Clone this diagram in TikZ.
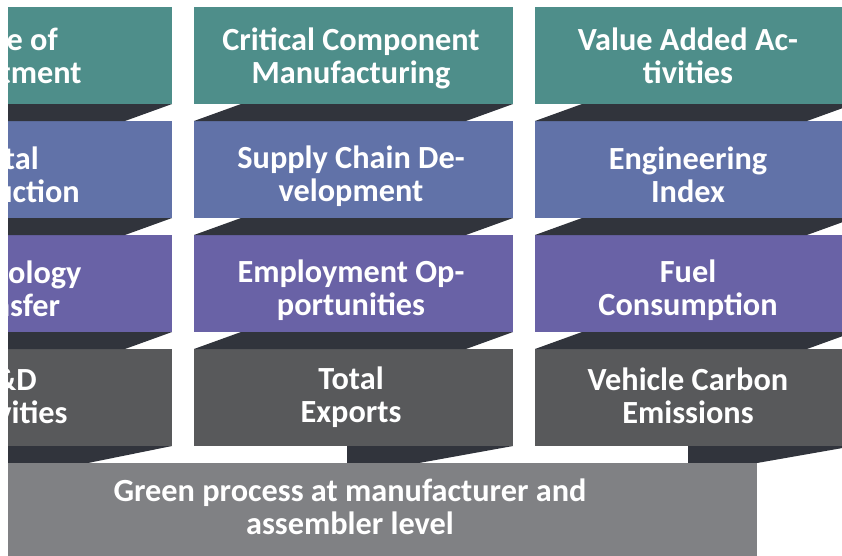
\documentclass[tikz,border=0pt]{standalone}
\usepackage{fontspec}
\setmainfont{Carlito}
\definecolor{tealc}{HTML}{4E8E8A}
\definecolor{bluec}{HTML}{6172A8}
\definecolor{purpc}{HTML}{6962A6}
\definecolor{dgrayc}{HTML}{58595B}
\definecolor{bandc}{HTML}{31343C}
\definecolor{bgrayc}{HTML}{808184}
\begin{document}
\begin{tikzpicture}[x=1pt,y=-1pt,
  lbl/.style={text=white,font=\bfseries\fontsize{32.3}{33}\selectfont,align=center,inner sep=0pt},
  band/.style={fill=bandc}]
\useasboundingbox (0,0) rectangle (842,555);
\clip (8,0) rectangle (842,555);
% boxes: rows
\foreach \xl/\xr in {-147/172,194/513,535/854}{
  \fill[tealc]  (\xl,7)   rectangle (\xr,104);
  \fill[bluec]  (\xl,121) rectangle (\xr,218);
  \fill[purpc]  (\xl,235) rectangle (\xr,332);
  \fill[dgrayc] (\xl,349) rectangle (\xr,446);
  \foreach \yt/\yb in {104/121,218/235,332/349}{
    \fill[band] (\xl+47,\yt) -- (\xr,\yt) -- (\xr-47,\yb) -- (\xl,\yb) -- cycle;
  }
}
% bottom bands
\fill[band] (-147,446) -- (172,446) -- (88,463) -- (-147,463) -- cycle;
\fill[band] (347,446) -- (513,446) -- (419,463) -- (347,463) -- cycle;
\fill[band] (688,446) -- (854,446) -- (757,463) -- (688,463) -- cycle;
% bottom box
\fill[bgrayc] (-147,463) rectangle (757,560);
% texts
\node[lbl] (tL1) at (6,56)   {Scale of\\Investment};
\node[lbl] (tL2) at (6,175)  {Total\\Production};
\node[lbl] (tL3) at (6,289)  {Technology\\Transfer};
\node[lbl] (tL4) at (6,396)  {R\&D\\Activities};
\node[lbl] (tM1) at (351,58)  {Critical Component\\Manufacturing};
\node[lbl] (tM2) at (351,176) {Supply Chain De-\\velopment};
\node[lbl] (tM3) at (351,290) {Employment Op-\\portunities};
\node[lbl] (tM4) at (351,397) {Total\\Exports};
\node[lbl] (tR1) at (688,56)  {Value Added Ac-\\tivities};
\node[lbl] (tR2) at (688,175) {Engineering\\Index};
\node[lbl] (tR3) at (688,290) {Fuel\\Consumption};
\node[lbl] (tR4) at (688,396) {Vehicle Carbon\\Emissions};
\node[lbl] (tB) at (350,507) {Green process at manufacturer and\\assembler level};
\end{tikzpicture}
\end{document}
